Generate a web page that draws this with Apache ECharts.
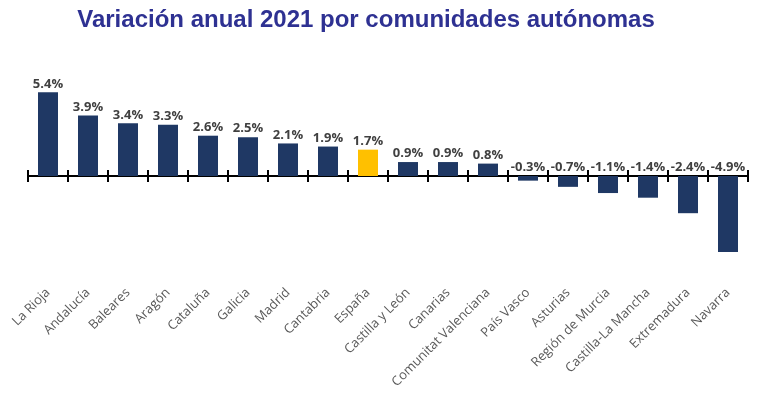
<!DOCTYPE html>
<html>
<head>
<meta charset="utf-8">
<script src="https://cdn.jsdelivr.net/npm/echarts@6/dist/echarts.min.js"></script>
<style>
  html, body { margin: 0; padding: 0; background: #fff; }
  #chart { width: 768px; height: 397px; }
</style>
</head>
<body>
<div id="chart"></div>
<script>
var regions = ['La Rioja', 'Andalucía', 'Baleares', 'Aragón', 'Cataluña', 'Galicia', 'Madrid', 'Cantabria', 'España',
  'Castilla y León', 'Canarias', 'Comunitat Valenciana', 'País Vasco', 'Asturias', 'Región de Murcia',
  'Castilla-La Mancha', 'Extremadura', 'Navarra']
var change = [5.4, 3.9, 3.4, 3.3, 2.6, 2.5, 2.1, 1.9, 1.7, 0.9, 0.9, 0.8, -0.3, -0.7, -1.1, -1.4, -2.4, -4.9]
var highlight = 'España'

var navy = '#1F3864'
var gold = '#FFC000'

var myChart = echarts.init(document.getElementById('chart'))

// axis line with ticks crossing it: two axes on zero, ticks out and in
var zeroAxis = function (inside, yIndex) {
  return {
    type: 'category',
    data: regions,
    position: 'bottom',
    boundaryGap: true,
    axisLine: { show: true, onZero: true, onZeroAxisIndex: yIndex, lineStyle: { color: '#000', width: 2 } },
    axisTick: { show: true, interval: 0, inside: inside, length: 6, lineStyle: { color: '#000', width: 2 } },
    axisLabel: { show: false },
    splitLine: { show: false }
  }
}

var option = {
  animation: false,
  title: {
    text: 'Variación anual 2021 por comunidades autónomas',
    left: 361,
    textAlign: 'center',
    top: 3,
    textStyle: { color: '#2E3192', fontSize: 24, fontWeight: 'bold', fontFamily: 'Liberation Sans' }
  },
  grid: { left: 28, width: 720, top: 83, height: 201.5 },
  xAxis: [
    {
      type: 'category',
      data: regions,
      position: 'bottom',
      axisLine: { show: false, onZero: false },
      axisTick: { show: false },
      axisLabel: {
        rotate: 45,
        margin: 6,
        interval: 0,
        color: '#595959',
        fontSize: 13,
        fontFamily: 'Open Sans'
      }
    },
    zeroAxis(false, 0),
    zeroAxis(true, 1)
  ],
  yAxis: [
    { type: 'value', min: -7, max: 6, show: false },
    { type: 'value', min: -7, max: 6, show: false }
  ],
  series: [{
    type: 'bar',
    xAxisIndex: 0,
    yAxisIndex: 0,
    barWidth: 20,
    data: change.map(function (v, i) {
      return { value: v, itemStyle: { color: regions[i] === highlight ? gold : navy } }
    }),
    label: {
      show: true,
      position: 'top',
      distance: 2,
      color: '#404040',
      fontSize: 13,
      fontWeight: 'bold',
      fontFamily: 'Open Sans',
      formatter: function (p) { return p.value.toFixed(1) + '%' }
    }
  }]
}

myChart.setOption(option)
window.addEventListener('resize', function () {
  myChart.resize()
})
</script>
</body>
</html>
